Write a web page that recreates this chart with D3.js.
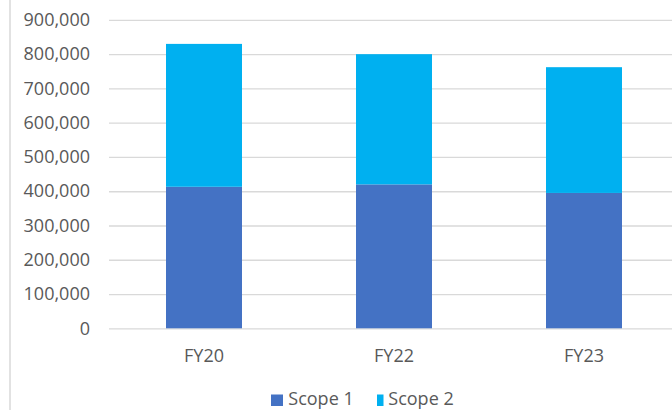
<!DOCTYPE html>
<html><head><meta charset="utf-8">
<script src="https://cdn.jsdelivr.net/npm/d3@7"></script>
<style>body{margin:0;background:#fff;overflow:hidden}svg{display:block}</style>
</head><body>
<svg id="c" width="672" height="410"></svg>
<script>
const categories = ["FY20", "FY22", "FY23"];
const scope1 = [413000, 420000, 395000];
const scope2 = [417000, 380000, 367000];
const seriesNames = ["Scope 1", "Scope 2"];
const seriesColors = ["#4472C4", "#00B0F0"];
const yTicks = [0, 100000, 200000, 300000, 400000, 500000, 600000, 700000, 800000, 900000];

const svg = d3.select("#c");
const font = "'Open Sans', sans-serif";
const y = d3.scaleLinear().domain([0, 900000]).range([328.3, 19.9]);
const x = d3.scaleBand().domain(categories).range([109, 679]).paddingInner(0.6).paddingOuter(0.3);

// left border
svg.append("line").attr("x1", 10).attr("x2", 10).attr("y1", 0).attr("y2", 410)
  .attr("stroke", "#d9d9d9").attr("stroke-width", 1.5);

// gridlines + y labels
const yAxis = d3.axisLeft(y).tickValues(yTicks).tickSize(-(679 - 109)).tickPadding(19)
  .tickFormat(d3.format(","));
const ga = svg.append("g").attr("transform", "translate(109,0)").call(yAxis);
ga.select(".domain").remove();
ga.selectAll(".tick line").attr("stroke", "#d9d9d9").attr("stroke-width", 1.3);
ga.selectAll(".tick text").attr("fill", "#595959").style("font-family", font).style("font-size", "18px");

// stacked bars
const rows = categories.map((c, i) => ({cat: c, "Scope 1": scope1[i], "Scope 2": scope2[i]}));
const stack = d3.stack().keys(seriesNames)(rows);
svg.append("g").selectAll("g").data(stack).join("g")
  .attr("fill", (d, i) => seriesColors[i])
  .selectAll("rect").data(d => d).join("rect")
  .attr("x", d => x(d.data.cat))
  .attr("width", x.bandwidth())
  .attr("y", d => y(d[1]))
  .attr("height", d => y(d[0]) - y(d[1]));

// x labels
const xAxis = d3.axisBottom(x).tickSize(0).tickPadding(0);
const gx = svg.append("g").attr("transform", "translate(0,349.5)").call(xAxis);
gx.select(".domain").remove();
gx.selectAll(".tick text").attr("fill", "#595959").style("font-family", font).style("font-size", "18px");

// legend
const legX = [271, 377];
const legW = [12, 6.5];
const legT = [288.3, 388.3];
const lg = svg.append("g");
seriesNames.forEach((n, i) => {
  lg.append("rect").attr("x", legX[i]).attr("y", 394.5).attr("width", legW[i]).attr("height", 11.5).attr("fill", seriesColors[i]);
  lg.append("text").attr("x", legT[i]).attr("y", 405.3).text(n)
    .attr("fill", "#595959").style("font-family", font).style("font-size", "18px");
});
</script>
</body></html>
